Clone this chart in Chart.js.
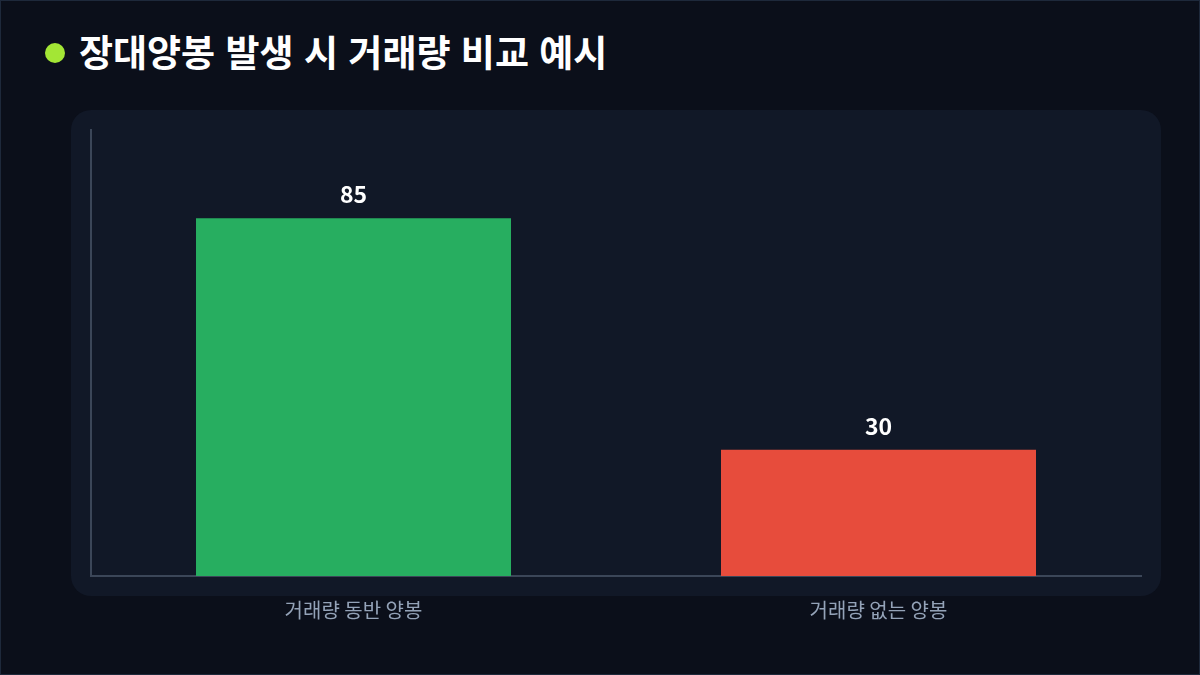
<!DOCTYPE html>
<html lang="ko">
<head>
<meta charset="utf-8">
<script src="https://cdn.jsdelivr.net/npm/chart.js@4.4.1/dist/chart.umd.min.js"></script>
<style>
  html, body { margin: 0; padding: 0; }
  body {
    width: 1200px; height: 675px; overflow: hidden;
    background: #0b0f1a;
    font-family: "Noto Sans CJK KR", "Noto Sans", sans-serif;
    position: relative;
  }
  .frame {
    position: absolute; left: 0; top: 0; width: 1198px; height: 673px;
    border: 1px solid #1e293b;
  }
  .title {
    position: absolute; left: 45px; top: 24px;
    color: #ffffff; font-size: 37px; font-weight: 700;
    display: flex; align-items: center;
  }
  .title .dot {
    width: 20px; height: 20px; border-radius: 50%;
    background: #a3e635; margin-right: 14px; margin-top: 4px;
  }
  .wrap { position: absolute; left: 0; top: 0; width: 1200px; height: 675px; }
</style>
</head>
<body>
<div class="frame"></div>
<div class="title"><span class="dot"></span>장대양봉 발생 시 거래량 비교 예시</div>
<div class="wrap"><canvas id="myChart"></canvas></div>
<script>
// DATA
const categories = ['거래량 동반 양봉', '거래량 없는 양봉'];
const volumeValues = [85, 30];
const barColors = ['#27ae60', '#e74c3c'];

// card behind the plot area
const cardBackground = {
    id: 'cardBackground',
    beforeDraw(chart) {
        const { ctx, chartArea } = chart;
        const pad = 20, r = 20;
        const x = chartArea.left - pad, y = chartArea.top - pad;
        const w = chartArea.right - chartArea.left + pad * 2;
        const h = chartArea.bottom - chartArea.top + pad * 2;
        ctx.save();
        ctx.fillStyle = '#111827';
        ctx.beginPath();
        ctx.roundRect(x, y, w, h, r);
        ctx.fill();
        ctx.restore();
    }
};

// numbers above the bars
const valueLabels = {
    id: 'valueLabels',
    afterDatasetsDraw(chart) {
        const { ctx } = chart;
        const meta = chart.getDatasetMeta(0);
        ctx.save();
        ctx.fillStyle = '#ffffff';
        ctx.font = 'bold 23px "Noto Sans CJK KR", "Noto Sans", sans-serif';
        ctx.textAlign = 'center';
        ctx.textBaseline = 'middle';
        meta.data.forEach((bar, i) => {
            ctx.fillText(String(volumeValues[i]), bar.x, bar.y - 24);
        });
        ctx.restore();
    }
};

const data = {
    labels: categories,
    datasets: [{
        label: '거래량',
        data: volumeValues,
        backgroundColor: barColors,
        borderWidth: 0,
        categoryPercentage: 0.8,
        barPercentage: 0.75
    }]
};

const config = {
    type: 'bar',
    data: data,
    options: {
        responsive: false,
        animation: false,
        devicePixelRatio: 1,
        layout: { padding: { top: 130, right: 59, left: 0, bottom: 0 } },
        plugins: {
            legend: { display: false },
            tooltip: { enabled: false }
        },
        scales: {
            x: {
                grid: { display: false, drawTicks: false },
                border: { color: '#3b4658', width: 2 },
                ticks: {
                    color: '#94a3b8',
                    padding: 22,
                    font: { family: '"Noto Sans CJK KR", "Noto Sans", sans-serif', size: 20 }
                },
                afterFit(scale) { scale.height = 99; }
            },
            y: {
                min: 0,
                max: 106,
                grid: { display: false, drawTicks: false },
                border: { color: '#3b4658', width: 2 },
                ticks: { display: false },
                afterFit(scale) { scale.width = 91; }
            }
        }
    },
    plugins: [cardBackground, valueLabels]
};

const canvas = document.getElementById('myChart');
canvas.width = 1200;
canvas.height = 675;
new Chart(canvas, config);
</script>
</body>
</html>
